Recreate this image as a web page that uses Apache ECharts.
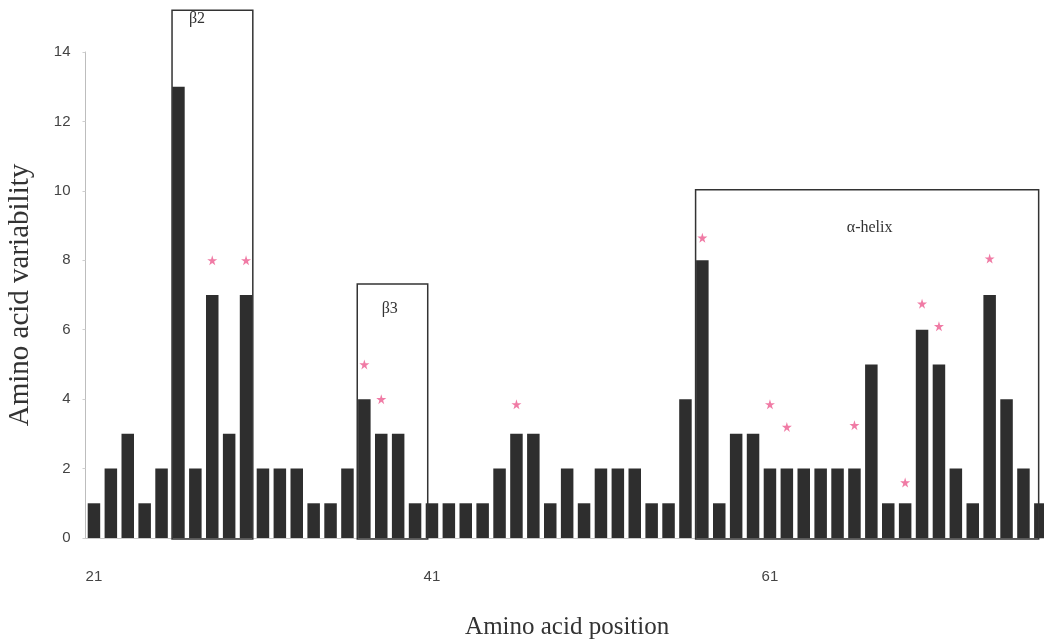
<html>
  <head>
    <title>Amino acid variability</title>
    <script src="https://cdn.jsdelivr.net/npm/echarts@6/dist/echarts.min.js"></script>
    <style>
      body { margin: 0; background: #fff; }
      #chart { width: 1044px; height: 639px; }
    </style>
  </head>
  <body>
    <div id="chart"></div>
    <script>
      // positions 21..77
      var positions = []
      for (var p = 21; p <= 77; p++) positions.push(String(p))

      var variability = [
        1, 2, 3, 1, 2, 13, 2, 7, 3, 7,
        2, 2, 2, 1, 1, 2, 4, 3, 3, 1,
        1, 1, 1, 1, 2, 3, 3, 1, 2, 1,
        2, 2, 2, 1, 1, 4, 8, 1, 3, 3,
        2, 2, 2, 2, 2, 2, 5, 1, 1, 6,
        5, 2, 1, 7, 4, 2, 1
      ]

      // pink stars (position, height)
      var starPos = [26, 28, 30, 37, 38, 46, 57, 61, 62, 66, 69, 70, 71, 74]
      var starVal = [14.1, 8, 8, 5, 4, 3.85, 8.65, 3.85, 3.2, 3.25, 1.6, 6.75, 6.1, 8.05]

      // structural regions
      var regionNames = ['\u03b22', '\u03b23', '\u03b1-helix']
      var regionFrom = [25.62, 36.58, 56.6]
      var regionTo = [30.4, 40.75, 76.9]
      var regionTop = [15.2, 7.32, 10.03]
      var regionLabelPos = [27.1, 38.5, 66.9]
      var regionLabelVal = [14.95, 6.6, 8.95]

      var chart = echarts.init(document.getElementById('chart'))

      var option = {
        animation: false,
        grid: { left: 85.5, top: 52, width: 963.3, height: 486, outerBoundsMode: 'none', containLabel: false },
        xAxis: [
          {
            type: 'category',
            data: positions,
            axisLine: { lineStyle: { color: '#c8c8c8', width: 1 } },
            axisTick: { show: false },
            axisLabel: {
              interval: 19,
              margin: 26,
              fontFamily: 'Liberation Sans',
              fontSize: 15,
              color: '#444'
            },
            name: 'Amino acid position',
            nameLocation: 'middle',
            nameGap: 70,
            nameTextStyle: { fontFamily: 'Liberation Serif', fontSize: 25, color: '#333' }
          },
          {
            type: 'value',
            min: 20.5,
            max: 77.5,
            show: false
          }
        ],
        yAxis: {
          type: 'value',
          min: 0,
          max: 14,
          interval: 2,
          splitLine: { show: false },
          axisLine: { show: true, lineStyle: { color: '#bdbdbd', width: 1 } },
          axisTick: { show: true, length: 3, lineStyle: { color: '#cfcfcf' } },
          axisLabel: {
            margin: 15,
            fontFamily: 'Liberation Sans',
            fontSize: 15,
            color: '#444'
          },
          name: 'Amino acid variability',
          nameLocation: 'middle',
          nameGap: 42,
          nameTextStyle: { fontFamily: 'Liberation Serif', fontSize: 29, color: '#333' }
        },
        series: [
          {
            type: 'bar',
            data: variability,
            barCategoryGap: '26%',
            itemStyle: { color: '#2e2e2e' }
          },
          {
            type: 'scatter',
            xAxisIndex: 1,
            data: starPos.map(function (p, i) { return [p, starVal[i]] }),
            symbol: 'path://M50,0 L61,35 L98,35 L68,57 L79,91 L50,70 L21,91 L32,57 L2,35 L39,35 Z',
            symbolSize: 10,
            itemStyle: { color: '#ec5a8f' },
            z: 5
          }
        ]
      }
      chart.setOption(option)

      // outline boxes and their labels from axis scales
      var graphics = []
      for (var i = 0; i < regionNames.length; i++) {
        var a = chart.convertToPixel({ xAxisIndex: 1, yAxisIndex: 0 }, [regionFrom[i], regionTop[i]])
        var b = chart.convertToPixel({ xAxisIndex: 1, yAxisIndex: 0 }, [regionTo[i], 0])
        graphics.push({
          type: 'rect',
          shape: { x: a[0], y: a[1], width: b[0] - a[0], height: b[1] - a[1] + 1 },
          style: { fill: 'none', stroke: '#333', lineWidth: 1.5 },
          z: 10
        })
        var t = chart.convertToPixel({ xAxisIndex: 1, yAxisIndex: 0 }, [regionLabelPos[i], regionLabelVal[i]])
        graphics.push({
          type: 'text',
          x: t[0],
          y: t[1],
          style: {
            text: regionNames[i],
            fontFamily: 'Liberation Serif',
            fontSize: 16,
            fill: '#333',
            align: 'center',
            verticalAlign: 'middle'
          },
          z: 10
        })
      }
      chart.setOption({ graphic: graphics })
    </script>
  </body>
</html>
